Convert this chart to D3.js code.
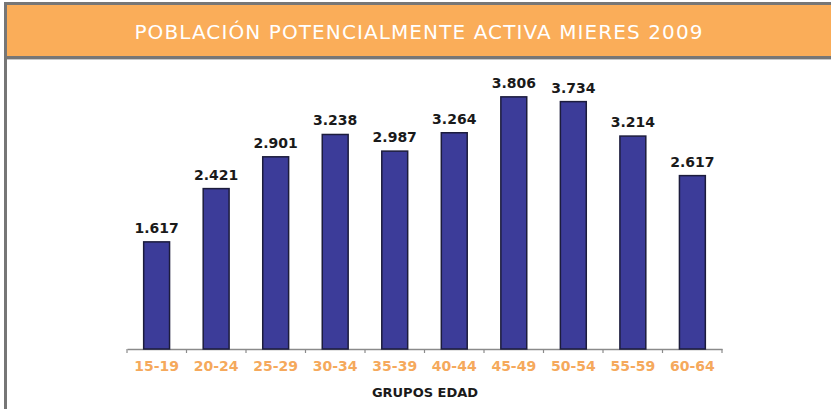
<!DOCTYPE html>
<html>
<head>
<meta charset="utf-8">
<script src="https://cdn.jsdelivr.net/npm/d3@7"></script>
<style>
  html, body { margin: 0; padding: 0; background: #fff; }
  svg { display: block; }
</style>
</head>
<body>
<div id="root"></div>
<script>
// chart data
const title = 'POBLACIÓN POTENCIALMENTE ACTIVA MIERES 2009';
const axisTitle = 'GRUPOS EDAD';
const ageGroups = ['15-19', '20-24', '25-29', '30-34', '35-39', '40-44', '45-49', '50-54', '55-59', '60-64'];
const population = [1617, 2421, 2901, 3238, 2987, 3264, 3806, 3734, 3214, 2617];

const width = 831, height = 409;

const svg = d3.select('#root').append('svg')
  .attr('width', width)
  .attr('height', height)
  .attr('viewBox', [0, 0, width, height]);

svg.append('rect').attr('width', width).attr('height', height).attr('fill', '#fff');

// header band with gray frame
svg.append('rect')
  .attr('x', 5.5).attr('y', 3.5)
  .attr('width', width + 10).attr('height', 54)
  .attr('fill', '#faad59')
  .attr('stroke', '#767676')
  .attr('stroke-width', 3);
svg.append('line')
  .attr('x1', 7).attr('x2', width)
  .attr('y1', 59.5).attr('y2', 59.5)
  .attr('stroke', '#c8c8c8');
svg.append('line')
  .attr('x1', 5.5).attr('x2', 5.5)
  .attr('y1', 2).attr('y2', height)
  .attr('stroke', '#767676')
  .attr('stroke-width', 3);

svg.append('text')
  .attr('x', 419).attr('y', 38.5)
  .attr('text-anchor', 'middle')
  .attr('font-family', 'DejaVu Sans, Verdana, sans-serif')
  .attr('font-size', 20)
  .attr('letter-spacing', 1.1)
  .attr('fill', '#fff')
  .text(title);

// scales
const x = d3.scaleBand()
  .domain(ageGroups)
  .range([127, 722])
  .paddingInner(0.565)
  .paddingOuter(0.28);

const y = d3.scaleLinear()
  .domain([0, 4000])
  .range([349, 84]);

// axis
const axis = svg.append('g')
  .attr('transform', 'translate(0,349)')
  .call(d3.axisBottom(x).tickSize(0).tickFormat(''));
axis.select('.domain').attr('stroke', '#8a8a8a').attr('stroke-width', 1.5);

const tickPos = d3.range(ageGroups.length + 1).map(i => 127 + i * (722 - 127) / ageGroups.length);
svg.append('g').selectAll('line')
  .data(tickPos)
  .join('line')
  .attr('x1', d => d).attr('x2', d => d)
  .attr('y1', 349).attr('y2', 353)
  .attr('stroke', '#8a8a8a')
  .attr('stroke-width', 1.2);

// bars
svg.append('g').selectAll('rect')
  .data(population)
  .join('rect')
  .attr('x', (d, i) => x(ageGroups[i]))
  .attr('y', d => y(d))
  .attr('width', x.bandwidth())
  .attr('height', d => y(0) - y(d))
  .attr('fill', '#3c3c99')
  .attr('stroke', '#1c1c3c')
  .attr('stroke-width', 1.5);

// value labels
svg.append('g').selectAll('text')
  .data(population)
  .join('text')
  .attr('x', (d, i) => x(ageGroups[i]) + x.bandwidth() / 2)
  .attr('y', d => y(d) - 9)
  .attr('text-anchor', 'middle')
  .attr('font-family', 'DejaVu Sans, Verdana, sans-serif')
  .attr('font-weight', 'bold')
  .attr('font-size', 14)
  .attr('fill', '#1a1a1a')
  .text(d => d3.format(',')(d).replace(',', '.'));

// category labels
svg.append('g').selectAll('text')
  .data(ageGroups)
  .join('text')
  .attr('x', d => x(d) + x.bandwidth() / 2)
  .attr('y', 371)
  .attr('text-anchor', 'middle')
  .attr('font-family', 'DejaVu Sans, Verdana, sans-serif')
  .attr('font-weight', 'bold')
  .attr('font-size', 14)
  .attr('fill', '#f5a95c')
  .text(d => d);

svg.append('text')
  .attr('x', 425).attr('y', 397)
  .attr('text-anchor', 'middle')
  .attr('font-family', 'DejaVu Sans, Verdana, sans-serif')
  .attr('font-weight', 'bold')
  .attr('font-size', 13)
  .attr('fill', '#1a1a1a')
  .text(axisTitle);
</script>
</body>
</html>
